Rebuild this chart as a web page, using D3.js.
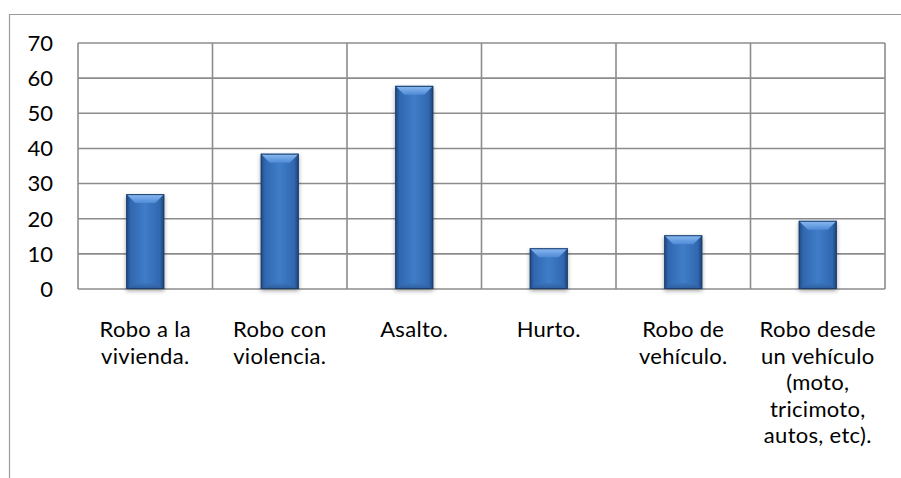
<!DOCTYPE html>
<html><head><meta charset="utf-8">
<script src="https://cdn.jsdelivr.net/npm/d3@7"></script>
<style>html,body{margin:0;padding:0;background:#fff;}svg{display:block;}</style>
</head><body>
<svg id="c" width="901" height="478"></svg>
<script>
const categories = [
  ["Robo a la","vivienda."],
  ["Robo con","violencia."],
  ["Asalto."],
  ["Hurto."],
  ["Robo de","vehículo."],
  ["Robo desde","un vehículo","(moto,","tricimoto,","autos, etc)."]
];
const values = [27, 38.5, 57.8, 11.6, 15.3, 19.4];
const yTicks = [0,10,20,30,40,50,60,70];

const svg = d3.select("#c");
const L = 78, R = 885, T = 43, B = 289;
const font = "Lato, 'Open Sans', sans-serif";
const fs = 22, lineH = 26.6;

// outer frame
svg.append("path").attr("d","M9.5,478 L9.5,14.5 L901,14.5").attr("fill","none").attr("stroke","#9a9a9a").attr("stroke-width",1.2);

const x = d3.scaleBand().domain(d3.range(categories.length)).range([L,R]).paddingInner(0).paddingOuter(0);
const y = d3.scaleLinear().domain([0,70]).range([B,T]);

const defs = svg.append("defs");
const g1 = defs.append("linearGradient").attr("id","side").attr("x1","0").attr("x2","1").attr("y1","0").attr("y2","0");
[[0,"#1f4a82"],[0.12,"#3168b0"],[0.5,"#3f7cc8"],[0.88,"#3168b0"],[1,"#1c4274"]].forEach(s=>g1.append("stop").attr("offset",s[0]).attr("stop-color",s[1]));
const g2 = defs.append("linearGradient").attr("id","topb").attr("x1","0").attr("x2","0").attr("y1","0").attr("y2","1");
[[0,"#8cbcf2"],[1,"#4f8ad6"]].forEach(s=>g2.append("stop").attr("offset",s[0]).attr("stop-color",s[1]));
const g3 = defs.append("linearGradient").attr("id","bot").attr("x1","0").attr("x2","0").attr("y1","0").attr("y2","1");
[[0,"#3a74bd"],[1,"#2a5795"]].forEach(s=>g3.append("stop").attr("offset",s[0]).attr("stop-color",s[1]));
const f = defs.append("filter").attr("id","sh").attr("x","-30%").attr("y","-10%").attr("width","160%").attr("height","130%");
f.append("feGaussianBlur").attr("in","SourceAlpha").attr("stdDeviation",2);
f.append("feOffset").attr("dx",0).attr("dy",2).attr("result","b");
f.append("feComponentTransfer").append("feFuncA").attr("type","linear").attr("slope",0.35);
const m = f.append("feMerge"); m.append("feMergeNode"); m.append("feMergeNode").attr("in","SourceGraphic");

// grid
const grid = svg.append("g").attr("stroke","#8c8c8c").attr("stroke-width",1.6);
yTicks.forEach(t=>grid.append("line").attr("x1",L).attr("x2",R).attr("y1",y(t)).attr("y2",y(t)));
d3.range(categories.length+1).forEach(i=>{
  const xx = i<categories.length ? x(i) : R;
  grid.append("line").attr("x1",xx).attr("x2",xx).attr("y1",T).attr("y2",B);
});

// y labels
svg.append("g").selectAll("text").data(yTicks).join("text")
  .attr("x",53).attr("y",d=>y(d)).attr("dy","0.36em").attr("text-anchor","end")
  .attr("font-family",font).attr("font-size",fs).attr("fill","#000").text(d=>d);

// bars
const bw = 38;
const bars = svg.append("g").selectAll("g").data(values).join("g")
  .attr("transform",(d,i)=>`translate(${x(i)+x.bandwidth()/2-bw/2},0)`).attr("filter","url(#sh)");
bars.append("rect").attr("x",0).attr("width",bw).attr("y",d=>y(d)).attr("height",d=>B-y(d)).attr("fill","url(#side)");
const bev = 9;
bars.append("path").attr("d",d=>{const t=y(d);return `M0,${t} L${bw},${t} L${bw-bev},${t+bev} L${bev},${t+bev} Z`;}).attr("fill","url(#topb)");
bars.append("path").attr("d",d=>`M0,${B} L${bw},${B} L${bw-bev},${B-6} L${bev},${B-6} Z`).attr("fill","url(#bot)").attr("opacity",0.8);
bars.append("rect").attr("x",0.5).attr("width",bw-1).attr("y",d=>y(d)+0.5).attr("height",d=>B-y(d)-1).attr("fill","none").attr("stroke","#1d3f6e").attr("stroke-width",1);

// x labels
const lab = svg.append("g").selectAll("text").data(categories).join("text")
  .attr("text-anchor","middle").attr("font-family",font).attr("font-size",fs).attr("fill","#000")
  .attr("letter-spacing",0.3);
lab.each(function(lines,i){
  const t = d3.select(this);
  lines.forEach((ln,k)=>t.append("tspan").attr("x",x(i)+x.bandwidth()/2).attr("y",337+k*lineH).text(ln));
});
</script>
</body></html>
